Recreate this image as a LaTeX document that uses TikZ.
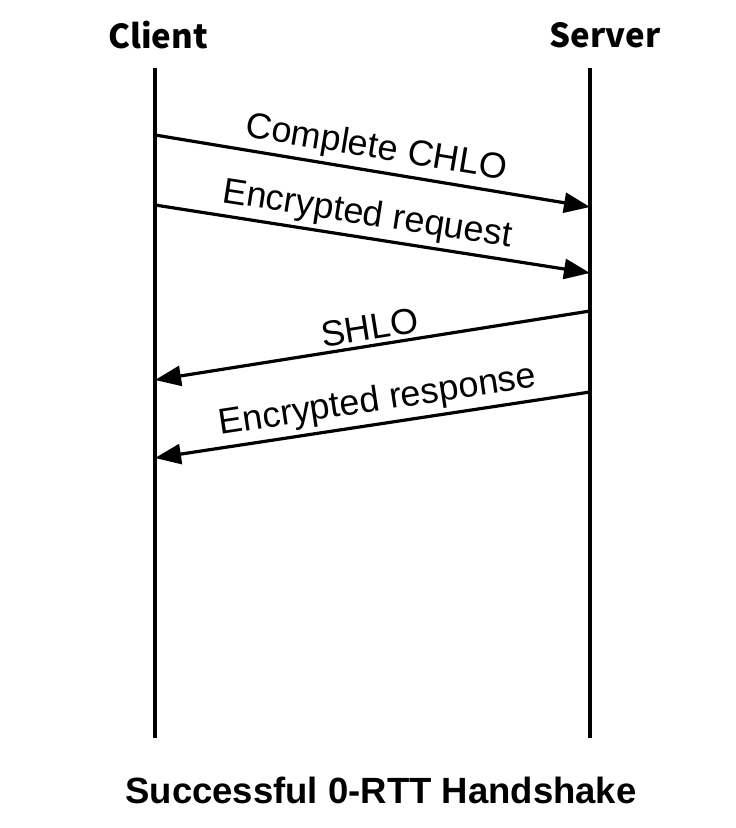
\documentclass[tikz,border=0pt]{standalone}
\usepackage{fontspec}
\setmainfont{Liberation Sans}
\newfontfamily\headfont{Noto Sans CJK SC}
\usetikzlibrary{arrows.meta}

\begin{document}
\begin{tikzpicture}[%
    x=1pt,
    y=-1pt,
    >={Triangle[length=26pt,width=20pt]},
    party/.style={font=\headfont\bfseries\fontsize{33}{33}\selectfont},
    msg/.style={->,line width=3.2pt},
    lbl/.style={sloped,above=4pt,inner sep=0pt,font=\fontsize{36}{36}\selectfont},
    lifeline/.style={line width=3.2pt}
    ]

    \useasboundingbox (0,0) rectangle (736,828);

    \node[party] (client) at (158,35) {Client};
    \node[party] (server) at (605,35) {Server};

    \coordinate (ctop) at (155,68);
    \coordinate (cbot) at (155,738);
    \coordinate (stop) at (590,68);
    \coordinate (sbot) at (590,738);

    \draw[lifeline] (ctop) -- (cbot);
    \draw[lifeline] (stop) -- (sbot);

    \coordinate (c1) at (155,135);
    \coordinate (s1) at (590,207);
    \coordinate (c2) at (155,205);
    \coordinate (s2) at (590,273);
    \coordinate (c3) at (155,380);
    \coordinate (s3) at (590,311);
    \coordinate (c4) at (155,458);
    \coordinate (s4) at (590,392);

    \path[msg] (c1) edge node[lbl] {Complete CHLO} (s1);
    \path[msg] (c2) edge node[lbl,pos=0.48] {Encrypted request} (s2);
    \path[msg,<-] (c3) edge node[lbl] {SHLO} (s3);
    \path[msg,<-] (c4) edge node[lbl,pos=0.52] {Encrypted response} (s4);

    \node[font=\bfseries\fontsize{36.5}{36.5}\selectfont] (caption) at (381,790) {Successful 0-RTT Handshake};

\end{tikzpicture}
\end{document}
